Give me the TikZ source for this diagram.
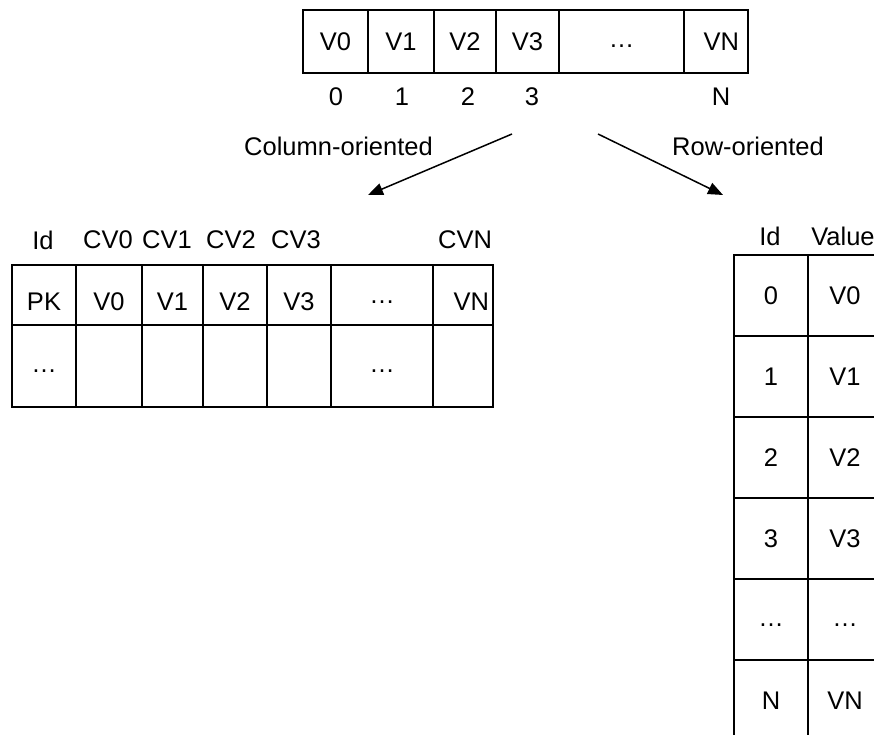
\documentclass[tikz,border=0pt]{standalone}
\usepackage{fontspec}
\setmainfont{Liberation Sans}
\usetikzlibrary{arrows.meta}

\tikzset{
  cell/.style={draw,rectangle,inner sep=0pt,outer sep=0pt,line width=1.5pt},
  lbl/.style={inner sep=0pt},
  ell/.style={text height=13pt,text depth=0pt},
  low/.style={text height=30pt,text depth=0pt},
  flow/.style={line width=1.5pt,-{Triangle[length=15pt,width=12pt]}}
}

\begin{document}
\begin{tikzpicture}[x=1pt,y=-1pt,font=\fontsize{25.5}{30}\selectfont]
            \useasboundingbox (0,0) rectangle (874,735);
            \clip (0,0) rectangle (874,735);

            %record in alto
            \node[cell,minimum width=65,minimum height=63] (t0) at (335.5,41.5) {V0};
            \node[cell,minimum width=66,minimum height=63] (t1) at (401,41.5) {V1};
            \node[cell,minimum width=62,minimum height=63] (t2) at (465,41.5) {V2};
            \node[cell,minimum width=63,minimum height=63] (t3) at (527.5,41.5) {V3};
            \node[cell,ell,minimum width=125,minimum height=63] (t4) at (621.5,41.5) {\dots};
            \node[cell,minimum width=64,minimum height=63,text width=46,align=right] (tn) at (716,41.5) {VN};

            %indici sotto il record
            \node[lbl] (i0) at (336,97) {0};
            \node[lbl] (i1) at (402,97) {1};
            \node[lbl] (i2) at (468,97) {2};
            \node[lbl] (i3) at (532,97) {3};
            \node[lbl] (in) at (721,97) {N};

            %frecce
            \coordinate (sl) at (512,134);
            \coordinate (el) at (368,195);
            \coordinate (sr) at (598,134);
            \coordinate (er) at (723,195);
            \draw[flow] (sl) -- (el);
            \draw[flow] (sr) -- (er);
            \node[lbl] (col) at (338.5,146) {Column-oriented};
            \node[lbl] (row) at (748,146) {Row-oriented};

            %tabella a colonne
            \node[lbl] (hid) at (43,240) {Id};
            \node[lbl] (hc0) at (108,240) {CV0};
            \node[lbl] (hc1) at (167,240) {CV1};
            \node[lbl] (hc2) at (231,240) {CV2};
            \node[lbl] (hc3) at (296,240) {CV3};
            \node[lbl] (hcn) at (465,240) {CVN};

            \node[cell,low,minimum width=64,minimum height=60] (a0) at (44,295) {PK};
            \node[cell,low,minimum width=66,minimum height=60] (a1) at (109,295) {V0};
            \node[cell,low,minimum width=61,minimum height=60] (a2) at (172.5,295) {V1};
            \node[cell,low,minimum width=64,minimum height=60] (a3) at (235,295) {V2};
            \node[cell,low,minimum width=64,minimum height=60] (a4) at (299,295) {V3};
            \node[cell,text height=16pt,text depth=0pt,minimum width=102,minimum height=60] (a5) at (382,295) {\dots};
            \node[cell,low,minimum width=60,minimum height=60,text width=52,align=right] (a6) at (463,295) {VN};

            \node[cell,ell,minimum width=64,minimum height=82] (b0) at (44,366) {\dots};
            \node[cell,minimum width=66,minimum height=82] (b1) at (109,366) {};
            \node[cell,minimum width=61,minimum height=82] (b2) at (172.5,366) {};
            \node[cell,minimum width=64,minimum height=82] (b3) at (235,366) {};
            \node[cell,minimum width=64,minimum height=82] (b4) at (299,366) {};
            \node[cell,ell,minimum width=102,minimum height=82] (b5) at (382,366) {\dots};
            \node[cell,minimum width=60,minimum height=82] (b6) at (463,366) {};

            %tabella a righe
            \node[lbl] (rid) at (770,236) {Id};
            \node[lbl] (rval) at (843,236) {Value};

            \node[cell,minimum width=74,minimum height=81] (k0) at (771,295.5) {0};
            \node[cell,minimum width=74,minimum height=81] (w0) at (845,295.5) {V0};
            \node[cell,minimum width=74,minimum height=81] (k1) at (771,376.5) {1};
            \node[cell,minimum width=74,minimum height=81] (w1) at (845,376.5) {V1};
            \node[cell,minimum width=74,minimum height=81] (k2) at (771,457.5) {2};
            \node[cell,minimum width=74,minimum height=81] (w2) at (845,457.5) {V2};
            \node[cell,minimum width=74,minimum height=81] (k3) at (771,538.5) {3};
            \node[cell,minimum width=74,minimum height=81] (w3) at (845,538.5) {V3};
            \node[cell,ell,minimum width=74,minimum height=81] (k4) at (771,619.5) {\dots};
            \node[cell,ell,minimum width=74,minimum height=81] (w4) at (845,619.5) {\dots};
            \node[cell,minimum width=74,minimum height=81] (kn) at (771,700.5) {N};
            \node[cell,minimum width=74,minimum height=81] (wn) at (845,700.5) {VN};
        \end{tikzpicture}
\end{document}
